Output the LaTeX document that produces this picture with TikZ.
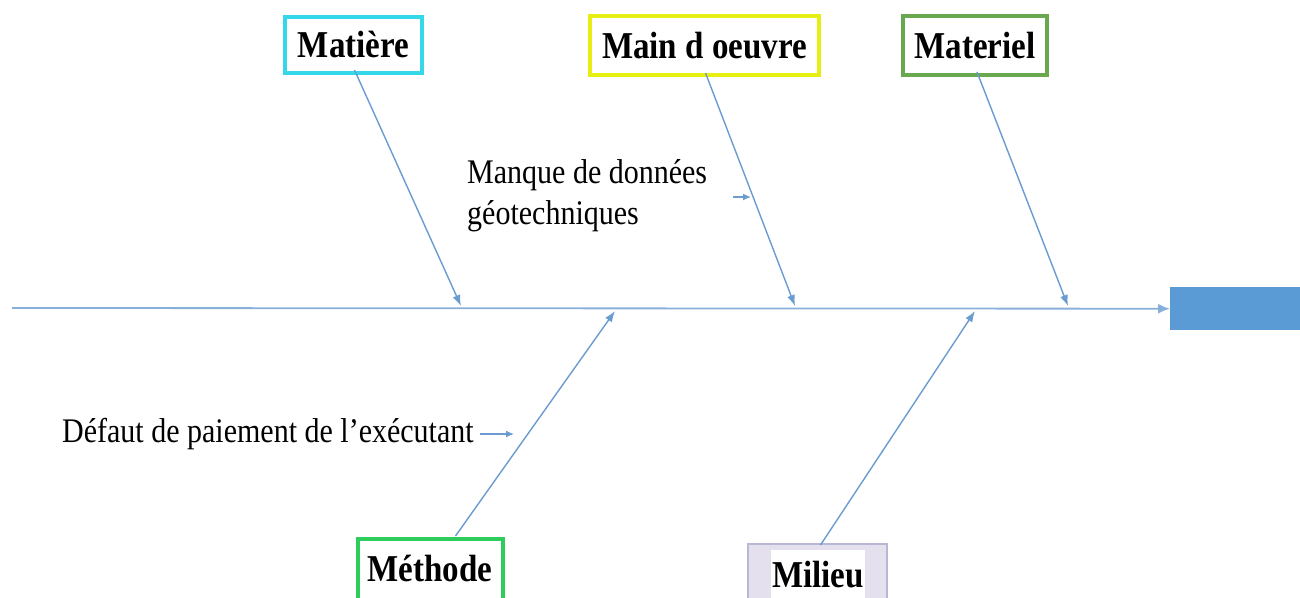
\documentclass[tikz,border=0pt]{standalone}
\usepackage{fontspec}
\setmainfont{Liberation Serif}
\usetikzlibrary{arrows.meta}
\definecolor{bone}{HTML}{6A9BD1}
\definecolor{headblue}{HTML}{5B9BD5}
\definecolor{cyanb}{HTML}{35D8E8}
\definecolor{yellowb}{HTML}{E6EE12}
\definecolor{greenb}{HTML}{6AA84F}
\definecolor{greenm}{HTML}{2ECC5A}
\definecolor{lavb}{HTML}{B8B8D4}
\definecolor{lavf}{HTML}{E4E0EE}
\newcommand{\tallbox}[1]{\scalebox{1}[1.15]{#1}}
\tikzset{
  cat/.style={draw, line width=4pt, fill=white, inner sep=0pt,
    font=\fontsize{33}{36}\selectfont\bfseries},
  cause/.style={font=\fontsize{30}{40}\selectfont, inner sep=0pt, align=left},
  bonearrow/.style={draw=bone, line width=1.4pt, -{Latex[length=11pt,width=8pt]}},
  twig/.style={draw=bone, line width=1.4pt, -{Latex[length=8pt,width=7pt]}},
  spine/.style={draw=bone!80, line width=1.8pt, -{Latex[length=12pt,width=10pt]}}
}
\begin{document}
\begin{tikzpicture}[x=1pt, y=-1pt]
\useasboundingbox (0,0) rectangle (1300,597);
\clip (0,0) rectangle (1300,597);

% effect head
\node (head) [fill=headblue, minimum width=130pt, minimum height=43pt, inner sep=0pt, anchor=north west] at (1170,287) {};
\coordinate (tail) at (12,308);

% category boxes
\node (mat) [cat, draw=cyanb, minimum width=137pt, minimum height=56pt] at (353.5,45) {\tallbox{Matière}};
\node (mo)  [cat, draw=yellowb, minimum width=229pt, minimum height=59pt] at (704.5,45.5) {\tallbox{Main d oeuvre}};
\node (mtl) [cat, draw=greenb, minimum width=144pt, minimum height=59pt] at (975,45.5) {\tallbox{Materiel}};
\node (meth) [cat, draw=greenm, minimum width=145pt, minimum height=70pt, anchor=north] at (430.5,537) {};
\node at (430,568) [font=\fontsize{33}{36}\selectfont\bfseries, inner sep=0pt] {\tallbox{Méthode}};
\node (mil) [draw=lavb, line width=1.5pt, fill=lavf, minimum width=139pt, minimum height=70pt, anchor=north] at (817.5,543) {};
\node at (818,575) [fill=white, minimum width=94pt, minimum height=50pt, inner sep=0pt, font=\fontsize{33}{36}\selectfont\bfseries] {\tallbox{Milieu}};

% spine
\draw[spine] (tail) -- (head.west);

% points where bones meet the spine
\coordinate (j1) at (461,306);
\coordinate (j2) at (795,306);
\coordinate (j3) at (1068,306);
\coordinate (j4) at (615,311);
\coordinate (j5) at (975,311);

\draw[bonearrow] ([xshift=1pt,yshift=5pt]mat.south) -- (j1);
\draw[bonearrow] ([xshift=1pt,yshift=4pt]mo.south) -- (j2);
\draw[bonearrow] ([xshift=2pt,yshift=5pt]mtl.south) -- (j3);
\draw[bonearrow] ([xshift=25pt,yshift=1pt]meth.north) -- (j4);
\draw[bonearrow] ([xshift=3pt,yshift=-2pt]mil.north) -- (j5);

% sub-causes
\node (c1) [cause, anchor=west] at (467,195) {\tallbox{\begin{tabular}{@{}l@{}}Manque de données\\[-4pt] géotechniques\end{tabular}}};
\coordinate (c1a) at (733,197);
\coordinate (c1b) at (751,197);
\draw[twig] (c1a) -- (c1b);

\node (c2) [cause, anchor=west] at (62,434) {\tallbox{Défaut de paiement de l’exécutant}};
\coordinate (c2b) at (514,434);
\draw[twig] ([xshift=6pt]c2.east) -- (c2b);
\end{tikzpicture}
\end{document}
